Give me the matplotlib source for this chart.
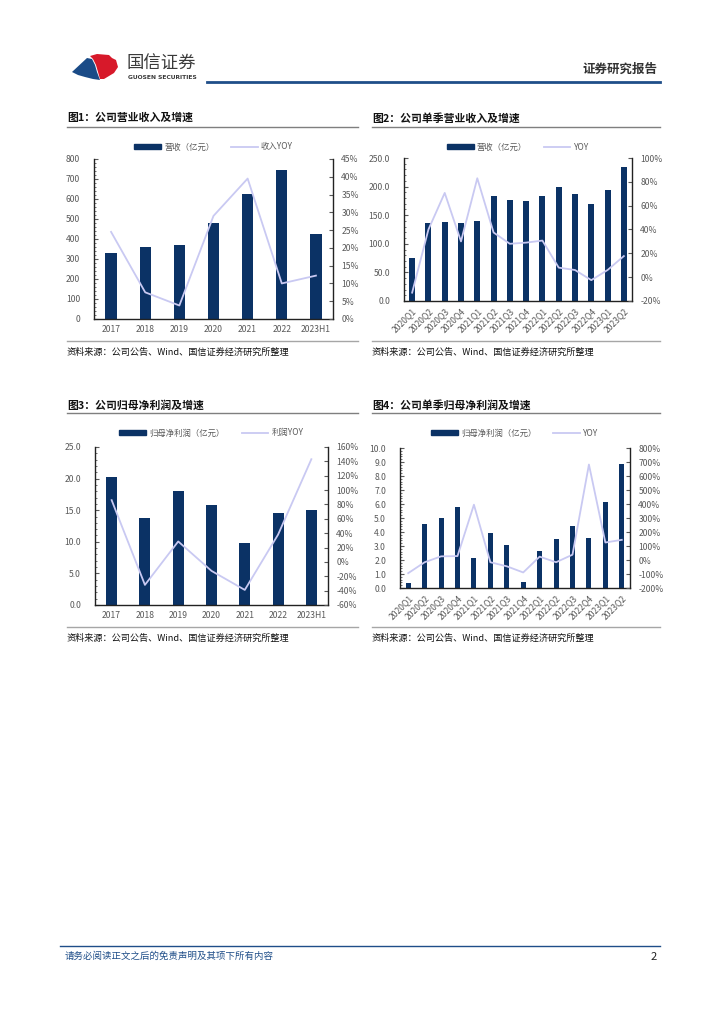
import matplotlib
matplotlib.use("Agg")
import matplotlib.pyplot as plt
from matplotlib.patches import Polygon, Rectangle
from matplotlib.lines import Line2D
from matplotlib.ticker import MultipleLocator, FuncFormatter, AutoMinorLocator

plt.rcParams['font.family'] = ['Noto Sans CJK SC', 'DejaVu Sans']

# ---------------- data ----------------
years = ['2017', '2018', '2019', '2020', '2021', '2022', '2023H1']
revenue = [330, 358, 370, 482, 626, 745, 427]
revenue_yoy = [24.5, 7.5, 3.8, 29.0, 39.5, 10.0, 12.2]

quarters = ['2020Q1', '2020Q2', '2020Q3', '2020Q4', '2021Q1', '2021Q2', '2021Q3',
            '2021Q4', '2022Q1', '2022Q2', '2022Q3', '2022Q4', '2023Q1', '2023Q2']
q_revenue = [75, 136, 138, 135.5, 140, 184, 176, 175, 184, 199, 187, 170, 194, 234]
q_revenue_yoy = [-13, 40, 70.7, 30, 83, 37.5, 28, 29, 30.7, 8, 6, -2.5, 6, 17.7]

profit = [20.2, 13.8, 18.1, 15.9, 9.85, 14.5, 15.0]
profit_yoy = [86, -32, 28.5, -12.5, -39, 38, 143]

q_profit = [0.38, 4.56, 4.99, 5.8, 2.14, 3.93, 3.08, 0.42, 2.66, 3.5, 4.42, 3.58, 6.15, 8.85]
q_profit_yoy = [-94, -16, 26, 28, 395, -16, -45, -89, 24, -16, 38, 682, 125, 144]

titles = ['图1：公司营业收入及增速', '图2：公司单季营业收入及增速',
          '图3：公司归母净利润及增速', '图4：公司单季归母净利润及增速']
bar_labels = ['营收（亿元）', '营收（亿元）', '归母净利润（亿元）', '归母净利润（亿元）']
line_labels = ['收入YOY', 'YOY', '利润YOY', 'YOY']
source = '资料来源：公司公告、Wind、国信证券经济研究所整理'

# ---------------- style ----------------
W, H = 724, 1024
NAVY = '#0B3265'
LAV = '#C9C9F2'
GRAY = '#595959'

fig = plt.figure(figsize=(W / 100, H / 100), dpi=100)


def rect(x0, y0, x1, y1):
    return [x0 / W, 1 - y1 / H, (x1 - x0) / W, (y1 - y0) / H]


def fx(x):
    return x / W


def fy(y):
    return 1 - y / H


# header
logo = fig.add_axes([0, 0, 1, 1], zorder=-1)
logo.set_xlim(0, W)
logo.set_ylim(H, 0)
logo.axis('off')
blue_pts = [(72, 72), (87, 58), (92, 59), (95, 65), (97, 72), (100, 80), (93, 79), (85, 77), (78, 75)]
red_pts = [(90, 56), (97, 54), (109, 55), (112, 58), (116, 60), (118, 67), (114, 73), (104, 79), (100, 79),
           (98, 72), (96, 65), (93, 59)]
logo.add_patch(Polygon(blue_pts, closed=True, color='#1A4B87', lw=0))
logo.add_patch(Polygon(red_pts, closed=True, color='#D7192A', lw=0))
fig.text(fx(127), fy(64), '国信证券', fontsize=12.5, color='#3a3a3a', va='center', ha='left')
fig.text(fx(128), fy(77.5), 'GUOSEN SECURITIES', fontsize=4.3, color='#3a3a3a', va='center', ha='left',
         fontweight='bold', family='DejaVu Sans')
fig.text(fx(657), fy(69), '证券研究报告', fontsize=9, color='#333333', va='center', ha='right', fontweight='bold')
logo.plot([207, 660], [82, 82], color='#1F4E89', lw=2)

# footer
logo.plot([60, 660], [946, 946], color='#1F4E89', lw=1)
fig.text(fx(65), fy(956), '请务必阅读正文之后的免责声明及其项下所有内容', fontsize=6.8, color='#1F4E89',
         va='center', ha='left')
fig.text(fx(657), fy(957), '2', fontsize=8, color='#222222', va='center', ha='right')

panels = [
    dict(px=67, title_y=118, tline_y=127, sline_y=341, src_y=352, x_end=358,
         ax=(94, 159, 333, 319), cats=years, bars=revenue, yoy=revenue_yoy,
         ylim=(0, 800), ystep=100, yfmt='{:.0f}', rlim=(0, 45), rstep=5, bw=0.33, rot=0, leg_y=147),
    dict(px=372, title_y=118, tline_y=127, sline_y=341, src_y=352, x_end=660,
         ax=(404, 158, 632, 301), cats=quarters, bars=q_revenue, yoy=q_revenue_yoy,
         ylim=(0, 250), ystep=50, yfmt='{:.1f}', rlim=(-20, 100), rstep=20, bw=0.37, rot=45, leg_y=147),
    dict(px=67, title_y=405, tline_y=413, sline_y=627, src_y=638, x_end=358,
         ax=(95, 447, 328, 605), cats=years, bars=profit, yoy=profit_yoy,
         ylim=(0, 25), ystep=5, yfmt='{:.1f}', rlim=(-60, 160), rstep=20, bw=0.33, rot=0, leg_y=433),
    dict(px=372, title_y=405, tline_y=413, sline_y=627, src_y=638, x_end=660,
         ax=(400, 448, 630, 588), cats=quarters, bars=q_profit, yoy=q_profit_yoy,
         ylim=(0, 10), ystep=1, yfmt='{:.1f}', rlim=(-200, 800), rstep=100, bw=0.3, rot=45, leg_y=433),
]

for i, p in enumerate(panels):
    fig.text(fx(p['px']), fy(p['title_y']), titles[i], fontsize=7.8, color='#111111', va='center',
             ha='left', fontweight='bold')
    logo.plot([p['px'], p['x_end']], [p['tline_y'], p['tline_y']], color='#7f7f7f', lw=1)
    logo.plot([p['px'], p['x_end']], [p['sline_y'], p['sline_y']], color='#a6a6a6', lw=1)
    fig.text(fx(p['px']), fy(p['src_y']), source, fontsize=6.6, color='#111111', va='center', ha='left')

    x0, y0, x1, y1 = p['ax']
    ax = fig.add_axes(rect(x0, y0, x1, y1))
    n = len(p['cats'])
    xs = list(range(n))
    ax.bar(xs, p['bars'], width=p['bw'], color=NAVY, zorder=2)
    ax.set_xlim(-0.5, n - 0.5)
    ax.set_ylim(*p['ylim'])
    ax.yaxis.set_major_locator(MultipleLocator(p['ystep']))
    fmt = p['yfmt']
    ax.yaxis.set_major_formatter(FuncFormatter(lambda v, pos, f=fmt: f.format(v)))
    ax.yaxis.set_minor_locator(AutoMinorLocator(5))
    ax.set_xticks(xs)
    if p['rot']:
        ax.set_xticklabels(p['cats'], rotation=45, ha='right', va='top', rotation_mode='anchor')
    else:
        ax.set_xticklabels(p['cats'])
    ax.tick_params(axis='x', length=0, labelsize=6.2, colors=GRAY, pad=4)
    ax.tick_params(axis='y', which='major', length=3, direction='in', labelsize=6.2, colors=GRAY, pad=10)
    ax.tick_params(axis='y', which='minor', length=1.5, direction='in', colors=GRAY)
    for s in ['top']:
        ax.spines[s].set_visible(False)
    ax.spines['right'].set_visible(False)
    for s in ['left', 'bottom']:
        ax.spines[s].set_color('#222222')
        ax.spines[s].set_linewidth(1.0)

    ax2 = ax.twinx()
    ax2.plot(xs, p['yoy'], color=LAV, lw=1.3, zorder=3)
    ax2.set_ylim(*p['rlim'])
    ax2.yaxis.set_major_locator(MultipleLocator(p['rstep']))
    ax2.yaxis.set_major_formatter(FuncFormatter(lambda v, pos: '{:.0f}%'.format(v)))
    ax2.tick_params(axis='y', length=3, direction='in', labelsize=6.2, colors=GRAY, pad=6)
    ax2.spines['top'].set_visible(False)
    ax2.spines['left'].set_visible(False)
    ax2.spines['bottom'].set_visible(False)
    ax2.spines['right'].set_color('#222222')
    ax2.spines['right'].set_linewidth(1.0)

    handles = [Rectangle((0, 0), 1, 1, color=NAVY), Line2D([0], [0], color=LAV, lw=1.3)]
    leg_cx = (x0 + x1) / 2
    fig.legend(handles, [bar_labels[i], line_labels[i]], loc='center',
               bbox_to_anchor=(fx(leg_cx), fy(p['leg_y'])), ncol=2, frameon=False, fontsize=6,
               handlelength=3.2, handleheight=0.5, columnspacing=2.0, labelcolor=GRAY, handletextpad=0.4)

fig.savefig('out.png', dpi=100)
